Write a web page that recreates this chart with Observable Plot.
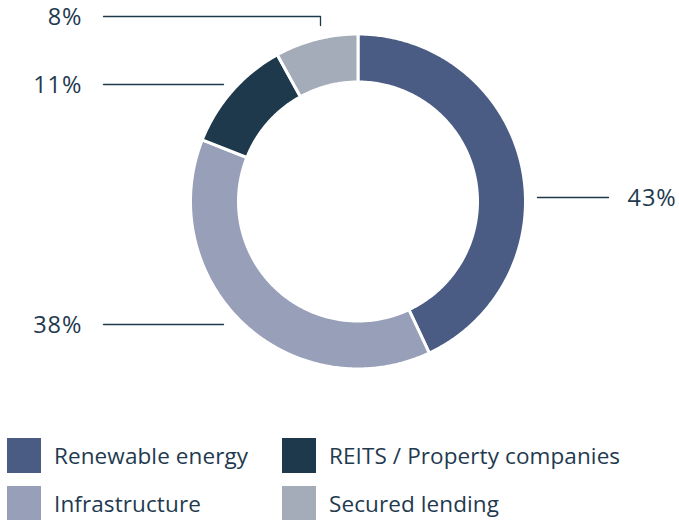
<!DOCTYPE html>
<html>
<head>
<meta charset="utf-8">
<script src="https://cdn.jsdelivr.net/npm/d3@7"></script>
<script src="https://cdn.jsdelivr.net/npm/@observablehq/plot@0.6"></script>
<style>
  html, body { margin: 0; padding: 0; background: #fff; }
  body { width: 679px; height: 520px; overflow: hidden; font-family: "Open Sans", sans-serif; }
  #chart svg { display: block; }
  .legend { position: relative; height: 90px; }
  .item { position: absolute; display: flex; align-items: center; height: 35px; }
  .sw { width: 34px; height: 35px; margin-right: 13px; flex: none; }
  .lab { font-size: 22.5px; color: #1f3a4f; white-space: nowrap; letter-spacing: 0.1px; }
</style>
</head>
<body>
<div id="chart"></div>
<div class="legend" id="legend"></div>
<script>
// ---- data ----
const categories = ["Renewable energy", "Infrastructure", "REITS / Property companies", "Secured lending"];
const shares = [43, 38, 11, 8];
const shareLabels = ["43%", "38%", "11%", "8%"];
const colors = ["#4b5c84", "#979fb9", "#1e384c", "#a3acb8"];

// ---- layout (pixels) ----
const W = 679, H = 430;
const cx = 357.5, cy = 201, R = 166, r0 = 121;
const leaders = [
  {x1: 537, x2: 608, y: 197, lx: 627, anchor: "start"},
  {x1: 103, x2: 223, y: 324, lx: 82, anchor: "end"},
  {x1: 103, x2: 223, y: 84, lx: 82, anchor: "end"},
  {x1: 103, x2: 320, y: 16, drop: 25, lx: 82, anchor: "end"}
];

const ux = px => (px - cx) / R;
const uy = py => (cy - py) / R;

// slice polygons from shares (white stroke of 3px straddles edges, so pad radii)
const total = d3.sum(shares);
const rOut = (R + 1.5) / R, rIn = (r0 - 1.5) / R;
const pts = [];
let acc = 0;
categories.forEach((c, i) => {
  const a0 = acc / total * 2 * Math.PI;
  acc += shares[i];
  const a1 = acc / total * 2 * Math.PI;
  const n = Math.max(8, Math.ceil((a1 - a0) / 0.01));
  for (let k = 0; k <= n; k++) {
    const a = a0 + (a1 - a0) * k / n;
    pts.push({cat: c, x: rOut * Math.sin(a), y: rOut * Math.cos(a)});
  }
  for (let k = n; k >= 0; k--) {
    const a = a0 + (a1 - a0) * k / n;
    pts.push({cat: c, x: rIn * Math.sin(a), y: rIn * Math.cos(a)});
  }
});

const linePts = [];
leaders.forEach((l, i) => {
  linePts.push({id: i, x: ux(l.x1), y: uy(l.y)});
  linePts.push({id: i, x: ux(l.x2), y: uy(l.y)});
  if (l.drop) linePts.push({id: i, x: ux(l.x2), y: uy(l.drop)});
});
const labelData = leaders.map((l, i) => ({
  text: shareLabels[i], x: ux(l.lx), y: uy(l.y), anchor: l.anchor
}));

const txt = {fontSize: 23.5, fill: "#1f3a4f", dy: 1, style: "letter-spacing:1px"};
const plot = Plot.plot({
  width: W, height: H,
  margin: 0,
  x: {domain: [ux(0), ux(W)], range: [0, W], axis: null},
  y: {domain: [uy(H), uy(0)], range: [H, 0], axis: null},
  color: {domain: categories, range: colors},
  style: {fontFamily: "'Open Sans', sans-serif", background: "#fff"},
  marks: [
    Plot.line(pts, {x: "x", y: "y", z: "cat", fill: "cat", stroke: "#fff", strokeWidth: 3, curve: "linear-closed"}),
    Plot.line(linePts, {x: "x", y: "y", z: "id", stroke: "#1e384c", strokeWidth: 1.3}),
    Plot.text(labelData.filter(d => d.anchor === "end"), {x: "x", y: "y", text: "text", textAnchor: "end", ...txt}),
    Plot.text(labelData.filter(d => d.anchor === "start"), {x: "x", y: "y", text: "text", textAnchor: "start", ...txt})
  ]
});
plot.querySelectorAll("text").forEach(t => t.setAttribute("letter-spacing", "1"));
document.getElementById("chart").appendChild(plot);

// legend
const legend = document.getElementById("legend");
const order = [0, 2, 1, 3];
const pos = [[7, 8], [282, 8], [7, 56], [282, 56]];
order.forEach((ci, k) => {
  const it = document.createElement("div");
  it.className = "item";
  it.style.left = pos[k][0] + "px";
  it.style.top = pos[k][1] + "px";
  const sw = document.createElement("div");
  sw.className = "sw";
  sw.style.background = colors[ci];
  const lb = document.createElement("span");
  lb.className = "lab";
  lb.textContent = categories[ci];
  it.appendChild(sw); it.appendChild(lb);
  legend.appendChild(it);
});
</script>
</body>
</html>
